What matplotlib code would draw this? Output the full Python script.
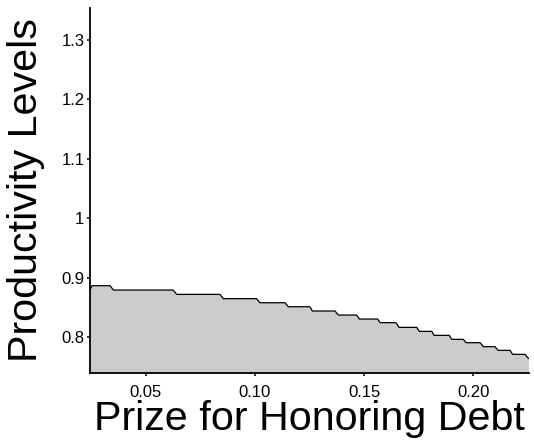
import matplotlib
matplotlib.use('Agg')
import matplotlib.pyplot as plt

plt.rcParams['font.family'] = ['Liberation Sans', 'DejaVu Sans']

# step outline of the productivity frontier (vertices)
prize = [0.0245, 0.0254, 0.0337, 0.0352, 0.0626, 0.0642, 0.0840, 0.0855,
         0.1008, 0.1023, 0.1138, 0.1153, 0.1252, 0.1263, 0.1367, 0.1382,
         0.1466, 0.1478, 0.1562, 0.1573, 0.1646, 0.1660, 0.1741, 0.1753,
         0.1810, 0.1820, 0.1890, 0.1901, 0.1954, 0.1967, 0.2031, 0.2046,
         0.2099, 0.2114, 0.2168, 0.2180, 0.2237, 0.2252, 0.2255]
productivity = [0.8794, 0.8867, 0.8867, 0.8794, 0.8794, 0.8721, 0.8721, 0.8649,
                0.8649, 0.8581, 0.8581, 0.8514, 0.8514, 0.8442, 0.8442, 0.8374,
                0.8374, 0.8307, 0.8307, 0.8246, 0.8246, 0.8167, 0.8167, 0.8100,
                0.8100, 0.8033, 0.8033, 0.7966, 0.7966, 0.7910, 0.7910, 0.7843,
                0.7843, 0.7781, 0.7781, 0.7714, 0.7714, 0.7647, 0.7647]

x_ticks = [0.05, 0.10, 0.15, 0.20]
x_labels = ['0.05', '0.10', '0.15', '0.20']
y_ticks = [0.8, 0.9, 1.0, 1.1, 1.2, 1.3]
y_labels = ['0.8', '0.9', '1', '1.1', '1.2', '1.3']

XLIM = (0.0245, 0.2255)
YLIM = (0.7406, 1.353)

fig = plt.figure(figsize=(5.34, 4.43), dpi=100)
ax = fig.add_axes([90 / 534, 70.3 / 443, 439 / 534, 364.7 / 443])

ax.fill_between(prize, productivity, YLIM[0] - 1, color='#CCCCCC', lw=0, zorder=1)
ax.plot(prize, productivity, color='black', lw=0.9, zorder=2)

ax.set_xlim(*XLIM)
ax.set_ylim(*YLIM)
ax.set_xticks(x_ticks)
ax.set_xticklabels(x_labels)
ax.set_yticks(y_ticks)
ax.set_yticklabels(y_labels)

for s in ['top', 'right']:
    ax.spines[s].set_visible(False)
for s in ['left', 'bottom']:
    ax.spines[s].set_linewidth(1.3)
    ax.spines[s].set_zorder(3)

ax.tick_params(axis='both', length=2.5, width=1.1, labelsize=12, colors='black')
ax.tick_params(axis='x', pad=6)
ax.tick_params(axis='y', pad=1.5)

ax.set_xlabel('Prize for Honoring Debt', fontsize=29.7, labelpad=0)
ax.set_ylabel('Productivity Levels', fontsize=29.7, labelpad=12)

fig.savefig('out.png', dpi=100)
plt.close()
